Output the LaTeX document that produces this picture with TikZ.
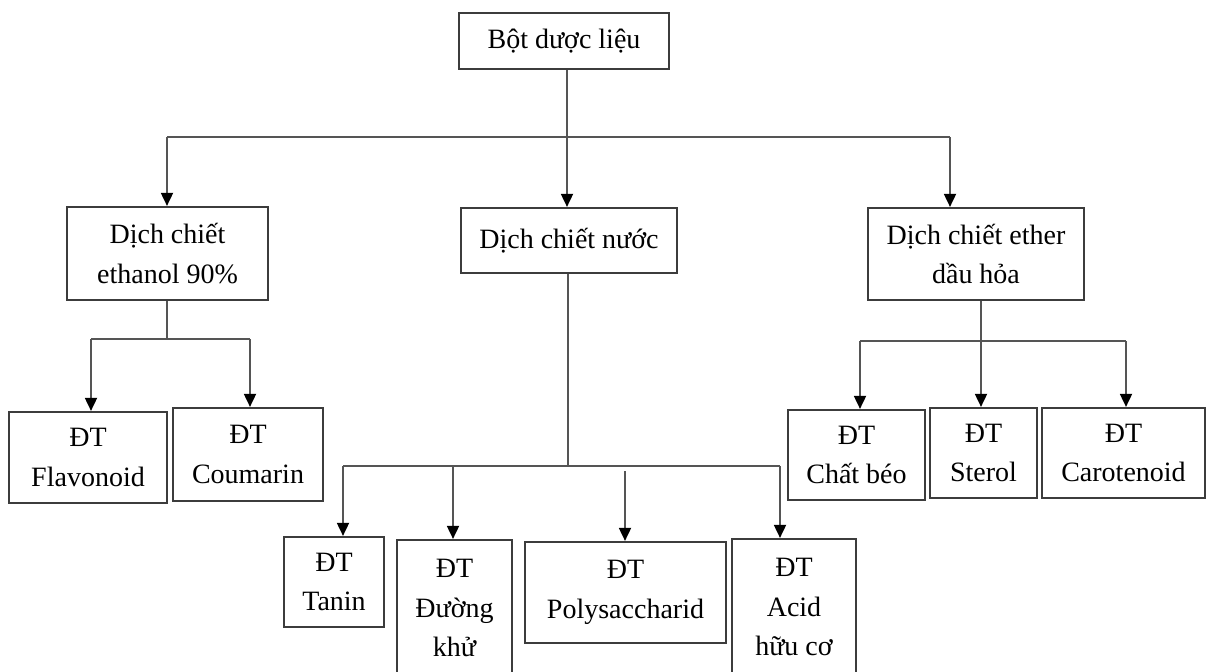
\documentclass[tikz,border=0pt]{standalone}
\usepackage{fontspec}
\setmainfont{Liberation Serif}
\usetikzlibrary{arrows.meta}
\definecolor{framegray}{HTML}{3C3C3C}
\definecolor{wiregray}{HTML}{555555}
\begin{document}
\begin{tikzpicture}[x=1pt, y=-1pt,
  box/.style={draw=framegray, line width=2.2pt, fill=white, inner sep=0pt,
    align=center, font=\fontsize{28}{39.5}\selectfont},
  wire/.style={draw=wiregray, line width=1.8pt},
  arr/.style={wire, -{Triangle[length=13pt, width=12pt, color=black]}}]
\fill[white] (0,0) rectangle (1208,672);
\useasboundingbox (0,0) rectangle (1208,672);
\clip (0,0) rectangle (1208,672);

% boxes
\node[box, minimum width=210, minimum height=56] (top) at (564,41) {Bột dược liệu};
\node[box, minimum width=201, minimum height=93] (eth) at (167.5,253.5) {Dịch chiết\\ethanol 90\%};
\node[box, minimum width=216, minimum height=65] (nuoc) at (569,240.5) {Dịch chiết nước};
\node[box, minimum width=216, minimum height=92] (ether) at (976,254) {Dịch chiết ether\\dầu hỏa};
\node[box, minimum width=158, minimum height=91] (flav) at (88,457.5) {ĐT\\Flavonoid};
\node[box, minimum width=150, minimum height=93] (coum) at (248,454.5) {ĐT\\Coumarin};
\node[box, minimum width=100, minimum height=90] (tanin) at (334,582) {ĐT\\Tanin};
\node[box, minimum width=115, minimum height=136] (duong) at (454.5,608) {ĐT\\Đường\\khử};
\node[box, minimum width=201, minimum height=101] (poly) at (625.5,592.5) {ĐT\\Polysaccharid};
\node[box, minimum width=124, minimum height=136] (acid) at (794,607) {ĐT\\Acid\\hữu cơ};
\node[box, minimum width=137, minimum height=90] (beo) at (856.5,455) {ĐT\\Chất béo};
\node[box, minimum width=107, minimum height=90] (sterol) at (983.5,453) {ĐT\\Sterol};
\node[box, minimum width=163, minimum height=90] (caro) at (1123.5,453) {ĐT\\Carotenoid};

% branch points
\coordinate (j0) at (567,137);
\coordinate (j0l) at (167,137);
\coordinate (j0r) at (950,137);
\coordinate (j1) at (167,339);
\coordinate (j1l) at (91,339);
\coordinate (j1r) at (250,339);
\coordinate (j2) at (568,466);
\coordinate (j2a) at (343,466);
\coordinate (j2b) at (453,466);
\coordinate (j2c) at (625,471);
\coordinate (j2d) at (780,466);
\coordinate (j3) at (981,341);
\coordinate (j3l) at (860,341);
\coordinate (j3r) at (1126,341);

% first level
\draw[wire] (top.south -| j0) -- (j0);
\draw[wire] (j0l) -- (j0r);
\draw[arr] (j0l) -- (j0l |- eth.north);
\draw[arr] (j0) -- (j0 |- nuoc.north);
\draw[arr] (j0r) -- (j0r |- ether.north);

% ethanol extract
\draw[wire] (eth.south -| j1) -- (j1);
\draw[wire] (j1l) -- (j1r);
\draw[arr] (j1l) -- (j1l |- flav.north);
\draw[arr] (j1r) -- (j1r |- coum.north);

% water extract
\draw[wire] (nuoc.south -| j2) -- (j2);
\draw[wire] (j2a) -- (j2d);
\draw[arr] (j2a) -- (j2a |- tanin.north);
\draw[arr] (j2b) -- (j2b |- duong.north);
\draw[arr] (j2c) -- (j2c |- poly.north);
\draw[arr] (j2d) -- (j2d |- acid.north);

% petroleum ether extract
\draw[wire] (j3l) -- (j3r);
\draw[arr] (ether.south -| j3) -- (j3 |- sterol.north);
\draw[arr] (j3l) -- (j3l |- beo.north);
\draw[arr] (j3r) -- (j3r |- caro.north);
\end{tikzpicture}
\end{document}
